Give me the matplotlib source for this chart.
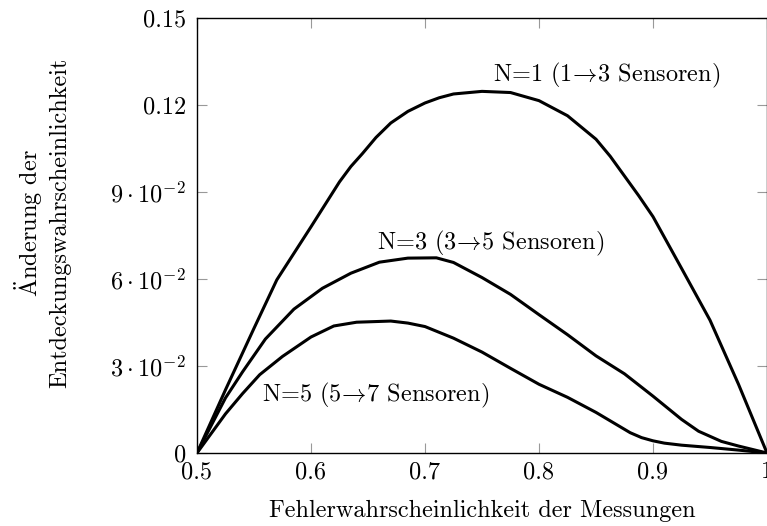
import matplotlib
matplotlib.use('Agg')
import matplotlib.pyplot as plt

# Werte
x_n1 = [0.5, 0.525, 0.55, 0.57, 0.6, 0.625, 0.635, 0.645, 0.657, 0.67, 0.685, 0.7, 0.7125,
        0.725, 0.75, 0.775, 0.8, 0.825, 0.85, 0.8625, 0.875, 0.8875, 0.9, 0.925, 0.95,
        0.975, 1.0]
n1 = [0, 0.0218, 0.0430, 0.0597, 0.0780, 0.0935, 0.0988, 0.1032, 0.1088, 0.1138, 0.1178,
      0.1207, 0.1225, 0.1238, 0.1247, 0.1243, 0.1215, 0.1163, 0.1082, 0.1023, 0.0955,
      0.0887, 0.0815, 0.0637, 0.0458, 0.0237, 0]

x_n3 = [0.5, 0.525, 0.54, 0.56, 0.585, 0.61, 0.635, 0.66, 0.685, 0.71, 0.725,
        0.75, 0.775, 0.8, 0.825, 0.85, 0.875, 0.9, 0.925, 0.94, 0.96, 0.975, 1.0]
n3 = [0, 0.0190, 0.0280, 0.0393, 0.0496, 0.0568, 0.0620, 0.0658, 0.0672, 0.0673, 0.0657,
      0.0605, 0.0547, 0.0477, 0.0408, 0.0335, 0.0273, 0.0196, 0.0116, 0.0075, 0.0040,
      0.0024, 0]

x_n5 = [0.5, 0.525, 0.54, 0.555, 0.575, 0.6, 0.62, 0.64, 0.67, 0.685, 0.7, 0.725,
        0.75, 0.775, 0.8, 0.825, 0.85, 0.865, 0.88, 0.89, 0.9, 0.91, 0.925, 0.95, 0.975, 1.0]
n5 = [0, 0.0135, 0.0205, 0.0270, 0.0333, 0.0400, 0.0438, 0.0451, 0.0455, 0.0448, 0.0436,
      0.0396, 0.0348, 0.0292, 0.0237, 0.0192, 0.0140, 0.0105, 0.0070, 0.0053, 0.0042,
      0.0034, 0.0027, 0.0019, 0.0010, 0]

labels = [r'N=1 (1$\!\rightarrow\!$3 Sensoren)',
          r'N=3 (3$\!\rightarrow\!$5 Sensoren)',
          r'N=5 (5$\!\rightarrow\!$7 Sensoren)']
label_pos = [(0.859, 0.1303), (0.758, 0.0722), (0.657, 0.0200)]

xticks = [0.5, 0.6, 0.7, 0.8, 0.9, 1.0]
xticklabels = ['0.5', '0.6', '0.7', '0.8', '0.9', '1']
yticks = [0, 0.03, 0.06, 0.09, 0.12, 0.15]
yticklabels = ['0', r'$3\cdot10^{-2}$', r'$6\cdot10^{-2}$', r'$9\cdot10^{-2}$', '0.12', '0.15']

plt.rcParams['font.family'] = ['cmr10', 'DejaVu Serif']
plt.rcParams['mathtext.fontset'] = 'cm'
plt.rcParams['axes.formatter.use_mathtext'] = True
fs = 17.5

fig = plt.figure(figsize=(7.67, 5.26), dpi=100)
ax = fig.add_axes([197/767, 73/526, 570/767, 435/526])

for xs, ys in ((x_n1, n1), (x_n3, n3), (x_n5, n5)):
    ax.plot(xs, ys, color='black', linewidth=2.2, solid_joinstyle='round')

ax.set_xlim(0.5, 1.0)
ax.set_ylim(0, 0.15)
ax.set_xticks(xticks)
ax.set_xticklabels(xticklabels, fontsize=fs)
ax.set_yticks(yticks)
ax.set_yticklabels(yticklabels, fontsize=fs)
ax.tick_params(direction='in', length=7, width=0.8, color='#999999',
               top=True, right=True)
ax.tick_params(axis='x', pad=6)
ax.tick_params(axis='y', pad=8)
for s in ax.spines.values():
    s.set_linewidth(1.0)

for txt, (lx, ly) in zip(labels, label_pos):
    ax.text(lx, ly, txt, fontsize=fs, ha='center', va='center')

fig.text(482/767, 1 - 511/526, 'Fehlerwahrscheinlichkeit der Messungen',
         fontsize=fs, ha='center', va='center')
fig.text(42/767, 1 - 223/526, '$\\ddot{\\mathrm{A}}$nderung der\nEntdeckungswahrscheinlichkeit',
         fontsize=fs, ha='center', va='center', rotation=90, multialignment='center',
         linespacing=1.25)

fig.savefig('out.png', dpi=100)
